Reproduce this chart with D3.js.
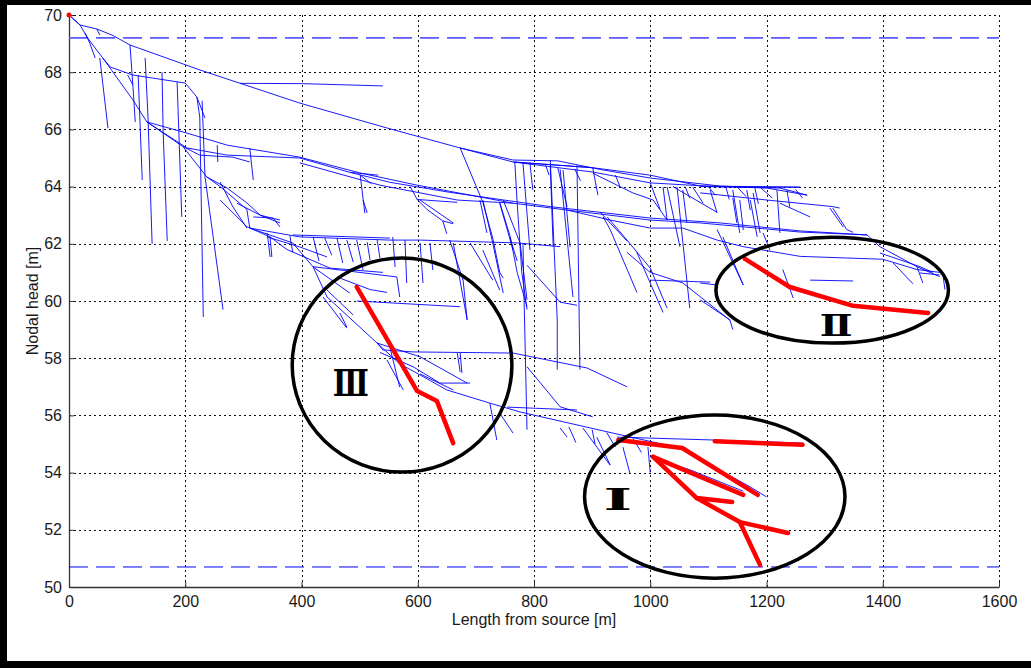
<!DOCTYPE html>
<html>
<head>
<meta charset="utf-8">
<script src="https://cdn.jsdelivr.net/npm/d3@7"></script>
<style>
  html, body { margin: 0; padding: 0; background: #fff; }
  svg { display: block; }
</style>
</head>
<body>
<div id="chart"></div>
<script>
// nodal head along the network, [length from source (m), head (m)]
const xTicks = [0, 200, 400, 600, 800, 1000, 1200, 1400, 1600];
const yTicks = [50, 52, 54, 56, 58, 60, 62, 64, 66, 68, 70];
const headLimits = [69.2, 50.7];   // dashed max / min head
const sourceNode = [0, 70];

// main lines of the tree
const trunkMains = [
  [[0,70],[19,69.65],[48,69.51],[76,69.28],[105,68.95],[225,68.08],[397,66.92],[547,66.05],[673,65.35],[764,64.86],[901,64.51],[1000,64.13],[1120,63.99],[1223,63.95],[1270,63.7]],
  [[764,64.86],[901,64.66],[1000,64.4],[1086,64.02],[1258,63.98]],
  [[673,65.35],[764,64.93],[841,64.9],[914,64.6],[1000,64.3],[1120,64.02],[1201,63.95]],
  [[294,67.61],[400,67.6],[540,67.52]],
  [[0,70],[19,69.65],[31,69.23],[41,68.95],[58,68.5],[110,67.03],[134,66.26]],
  [[28,69.37],[36,69.0],[45,68.5]],
  [[58,68.5],[71,68.18],[110,67.9],[200,67.62],[220,67.13],[234,66.4]],
  [[134,66.26],[203,65.35],[272,65.1],[397,65.0],[483,64.5],[552,64.15]],
  [[134,66.26],[203,65.87],[272,65.45],[397,65.03],[500,64.48],[599,64.05],[764,63.42],[857,63.18],[1000,62.83],[1086,62.73],[1258,62.41],[1373,62.31],[1395,61.9],[1459,61.2],[1498,60.85]],
  [[397,64.83],[535,64.05],[668,63.53],[764,63.42]],
  [[552,64.15],[655,63.8],[828,63.3],[1000,62.9],[1120,62.73],[1258,62.45],[1373,62.31]],
  [[134,66.26],[196,65.4],[237,64.34],[260,64.0],[306,63.2],[311,62.55],[397,62.24],[552,62.13],[604,62.13],[771,62.03],[845,61.9]],
  [[260,63.53],[306,62.6],[346,62.24],[375,61.8],[449,61.15],[540,61.0]],
  [[311,62.55],[385,62.03],[420,61.19],[444,60.14],[530,58.53],[569,57.8],[592,57.55],[650,56.89],[724,56.43],[776,56.12],[936,55.38],[1051,54.86],[1073,54.6],[1172,53.5],[1200,53.15]],
  [[530,58.53],[540,58.29],[592,58.22],[764,58.18],[891,57.66],[960,57.0]]
];

// drops and twigs, upper left
const branchesNW = [
  [[48,69.51],[53,69.3]],
  [[53,68.5],[67,66.05]],
  [[105,68.95],[110,67.5],[114,66.26]],
  [[101,67.9],[110,67.55]],
  [[119,67.9],[126,64.23]],
  [[131,68.5],[136,66.4],[143,62.0]],
  [[160,68.0],[162,65.9],[169,62.1]],
  [[186,67.66],[194,62.94]],
  [[229,67.0],[234,64.34],[265,59.7]],
  [[220,67.13],[225,66.43],[231,59.44]],
  [[196,65.4],[225,65.1],[282,65.03],[311,64.86]],
  [[255,65.45],[256,64.86]],
  [[311,65.35],[317,64.23]],
  [[501,64.4],[509,63.07]],
  [[483,64.5],[532,64.4]],
  [[501,64.4],[520,64.1]],
  [[237,64.34],[272,63.95],[306,63.43],[329,63.0],[363,62.73]],
  [[260,64.16],[282,63.29],[306,62.55]],
  [[289,63.42],[329,63.0],[363,62.83]],
  [[317,62.94],[351,62.9],[363,62.59]],
  [[341,62.38],[346,61.54]],
  [[385,62.31],[552,62.2]],
  [[341,62.24],[397,61.89],[444,61.54]],
  [[420,61.19],[483,60.28]],
  [[444,60.38],[489,59.51]],
  [[506,63.53],[513,63.08]],
  [[380,62.28],[385,61.7]],
  [[420,62.24],[430,61.4]],
  [[440,62.2],[452,61.6]],
  [[530,62.15],[535,61.5]]
];

// middle of the network
const branchesCentre = [
  [[587,64.0],[599,63.55],[616,63.2],[643,62.8],[661,62.7]],
  [[643,62.8],[650,62.35]],
  [[599,63.55],[668,63.45]],
  [[604,63.53],[661,62.73]],
  [[673,65.35],[712,63.45],[729,62.2],[741,61.0],[747,60.8]],
  [[707,63.53],[719,62.38]],
  [[741,63.42],[764,61.78]],
  [[767,64.86],[771,63.45],[779,61.0],[788,59.7]],
  [[781,64.83],[793,61.78]],
  [[793,64.83],[798,63.88]],
  [[767,64.86],[901,64.66]],
  [[828,64.72],[833,61.9]],
  [[841,64.65],[857,63.29]],
  [[850,64.58],[862,61.89]],
  [[901,64.65],[910,63.7]],
  [[914,63.1],[960,62.1]],
  [[901,64.47],[970,63.78],[1005,63.53],[1029,62.83]],
  [[1000,64.13],[1017,63.2]],
  [[1022,63.99],[1029,62.83]],
  [[1029,63.99],[1051,61.9]],
  [[1039,64.0],[1115,63.1]],
  [[1073,63.99],[1091,63.42]],
  [[857,63.18],[908,62.94],[931,62.83],[1000,62.55],[1056,62.55],[1115,62.13],[1160,61.9]],
  [[926,62.94],[960,62.13],[1000,61.15],[1029,59.75]],
  [[919,62.94],[931,62.5],[977,60.3]],
  [[960,61.7],[1000,61.0],[1056,60.63],[1137,59.33]],
  [[1000,60.73],[1103,60.66]],
  [[977,61.7],[1022,59.6]],
  [[1046,64.0],[1068,59.75]],
  [[1056,63.88],[1063,62.73]],
  [[1103,63.88],[1115,63.08]],
  [[1142,63.6],[1149,62.73]],
  [[1154,63.53],[1160,62.48]],
  [[1172,63.53],[1184,62.24]],
  [[1125,62.24],[1160,60.56]],
  [[1194,62.38],[1206,61.78]],
  [[741,63.45],[759,62.26],[771,61.0],[788,59.8]],
  [[788,61.25],[845,59.96],[874,59.85]],
  [[828,64.93],[840,59.33],[840,57.6]],
  [[874,64.75],[879,57.6]],
  [[845,64.6],[867,60.14]],
  [[655,62.13],[678,60.73],[685,59.34]],
  [[690,62.03],[729,60.73]],
  [[712,61.78],[741,60.38]],
  [[759,62.2],[771,61.4]],
  [[820,64.75],[826,64.4]],
  [[870,64.62],[880,64.2]],
  [[940,64.4],[948,64.0]],
  [[1060,64.0],[1068,63.6]],
  [[1100,64.0],[1112,63.7]],
  [[1130,63.99],[1136,63.55]],
  [[1150,63.98],[1165,63.65]],
  [[1180,63.96],[1186,63.4]],
  [[1190,63.96],[1210,63.6]],
  [[1250,63.9],[1262,63.6]]
];

// below the 62 m line, around zone III and zone I
const branchesSouth = [
  [[420,61.2],[564,60.84],[569,60.14]],
  [[461,60.84],[518,60.4],[547,60.3]],
  [[495,60.0],[673,59.8]],
  [[437,60.14],[478,59.05]],
  [[346,62.24],[349,61.54]],
  [[461,62.2],[471,61.33]],
  [[478,62.13],[489,61.36]],
  [[495,62.13],[506,61.08]],
  [[513,62.06],[518,61.43]],
  [[557,62.24],[561,61.19]],
  [[578,62.13],[581,60.63]],
  [[604,62.03],[609,60.63]],
  [[621,62.03],[626,61.08]],
  [[661,62.03],[685,59.34]],
  [[712,63.53],[729,62.03],[747,60.28]],
  [[747,63.53],[776,62.03],[788,60.04]],
  [[781,62.0],[783,60.0],[788,55.5]],
  [[530,58.53],[604,58.05],[685,57.13]],
  [[552,58.39],[569,56.99]],
  [[668,58.18],[673,57.52]],
  [[604,57.45],[661,56.89]],
  [[466,59.58],[478,59.09]],
  [[535,58.2],[592,57.7],[638,57.13],[690,57.13]],
  [[673,58.18],[676,57.48]],
  [[788,57.7],[845,56.3],[901,55.95]],
  [[754,56.29],[874,56.19]],
  [[724,56.43],[736,55.14]],
  [[741,56.08],[764,55.38]],
  [[908,55.24],[931,54.27]],
  [[953,54.89],[965,53.98]],
  [[845,55.56],[857,55.24]],
  [[547,57.94],[575,56.89]],
  [[884,55.56],[931,54.26]],
  [[996,54.9],[1000,54.0]],
  [[943,55.24],[1108,55.14],[1263,55.03]],
  [[1000,54.55],[1068,54.1],[1160,53.35]],
  [[860,55.6],[872,55.05]],
  [[900,55.5],[905,55.0]],
  [[925,55.4],[940,54.9]],
  [[970,55.2],[985,54.7]]
];

// right part, around zone II
const branchesEast = [
  [[1086,64.0],[1258,63.98]],
  [[1201,63.95],[1270,63.7]],
  [[1086,63.78],[1201,63.53],[1314,63.3],[1326,63.25]],
  [[1314,63.25],[1338,62.5],[1349,62.4]],
  [[1160,61.9],[1258,61.56],[1400,61.46],[1459,61.1],[1498,61.0]],
  [[1395,61.68],[1464,61.2],[1486,61.0]],
  [[1418,61.33],[1452,60.6]],
  [[1459,61.19],[1469,60.63]],
  [[1464,60.98],[1498,60.91]],
  [[1504,60.85],[1507,60.4]],
  [[1275,60.73],[1349,60.7]],
  [[1228,61.1],[1246,60.1]],
  [[1115,62.5],[1160,60.56]],
  [[1086,60.04],[1137,59.34],[1142,59.0]],
  [[1086,60.63],[1115,60.56]],
  [[1142,63.88],[1154,62.38]],
  [[1166,63.88],[1172,63.18]],
  [[1177,63.78],[1189,62.38]],
  [[1218,63.88],[1223,62.38]],
  [[1235,63.88],[1240,63.29]],
  [[1309,63.25],[1332,62.59]],
  [[1223,63.42],[1275,62.94]]
];

// critical pipes (red)
const criticalI = [
  [[945,55.14],[1055,54.86],[1185,53.22]],
  [[1111,55.1],[1262,54.97]],
  [[1005,54.55],[1160,53.22]],
  [[1005,54.55],[1080,53.11],[1141,52.97]],
  [[1080,53.11],[1154,52.27],[1237,51.89]],
  [[1154,52.27],[1189,50.77]]
];
const criticalII = [
  [[1163,61.47],[1240,60.49],[1349,59.83],[1478,59.58]]
];
const criticalIII = [
  [[495,60.49],[599,56.85],[633,56.5],[661,55.03]]
];

// ringed zones: centre, radii (m), label position
const zoneLabels = ["\u2160", "\u2161", "\u2162"];
const zoneCentres = [[1111,53.16],[1313,60.38],[573,57.76]];
const zoneRadii = [[224,2.85],[200,1.85],[189,3.74]];
const zoneLabelPos = [[944,53.04],[1320,59.16],[485,57.13]];

(function () {
  const W = 1031, H = 668;
  const plot = { left: 69, right: 999, top: 15, bottom: 587 };

  const svg = d3.select("#chart").append("svg")
    .attr("width", W).attr("height", H);
  svg.append("rect").attr("width", W).attr("height", H).attr("fill", "#fff");

  const x = d3.scaleLinear().domain([0, 1600]).range([plot.left, plot.right]);
  const y = d3.scaleLinear().domain([50, 70]).range([plot.bottom, plot.top]);

  // dotted grid
  const grid = svg.append("g").attr("stroke", "#111").attr("stroke-width", 1)
    .attr("stroke-dasharray", "2,3").attr("shape-rendering", "crispEdges");
  grid.selectAll(".gx").data(xTicks.slice(1)).join("line")
    .attr("x1", d => Math.round(x(d)) + 0.5).attr("x2", d => Math.round(x(d)) + 0.5)
    .attr("y1", plot.top).attr("y2", plot.bottom);
  grid.selectAll(".gy").data(yTicks.slice(1)).join("line")
    .attr("y1", d => Math.round(y(d)) + 0.5).attr("y2", d => Math.round(y(d)) + 0.5)
    .attr("x1", plot.left).attr("x2", plot.right);

  // axes
  const font = "'Liberation Sans Narrow', 'Liberation Sans', Arial, sans-serif";
  const xAxis = d3.axisBottom(x).tickValues(xTicks).tickFormat(d3.format("d"))
    .tickSize(-5).tickPadding(9).tickSizeOuter(0);
  const yAxis = d3.axisLeft(y).tickValues(yTicks).tickFormat(d3.format("d"))
    .tickSize(-5).tickPadding(7).tickSizeOuter(0);
  const xg = svg.append("g").attr("transform", `translate(0,${plot.bottom})`).call(xAxis);
  const yg = svg.append("g").attr("transform", `translate(${plot.left},0)`).call(yAxis);
  [xg, yg].forEach(g => {
    g.select(".domain").attr("stroke", "#333").attr("stroke-width", 1.3);
    g.selectAll(".tick line").attr("stroke", "#333");
    g.selectAll(".tick text").attr("fill", "#1a1a1a")
      .style("font-family", font).style("font-size", "16px");
  });

  // limits
  svg.append("line")
    .attr("x1", x(0)).attr("x2", x(1600))
    .attr("y1", y(headLimits[0])).attr("y2", y(headLimits[0]))
    .attr("stroke", "#5a5aff").attr("stroke-width", 1.6).attr("stroke-dasharray", "19,8");
  svg.append("line")
    .attr("x1", x(0)).attr("x2", x(1600))
    .attr("y1", y(headLimits[1])).attr("y2", y(headLimits[1]))
    .attr("stroke", "#0000ff").attr("stroke-width", 1).attr("stroke-dasharray", "19,8");

  const line = d3.line().x(d => x(d[0])).y(d => y(d[1]));

  // network
  const pipes = [].concat(trunkMains, branchesNW, branchesCentre, branchesSouth, branchesEast);
  svg.append("g").selectAll("path").data(pipes).join("path")
    .attr("d", line).attr("fill", "none")
    .attr("stroke", "#0000ff").attr("stroke-width", 0.9);

  // red critical pipes
  svg.append("g").selectAll("path").data([].concat(criticalI, criticalII, criticalIII)).join("path")
    .attr("d", line).attr("fill", "none")
    .attr("stroke", "#ff0000").attr("stroke-width", 4.5)
    .attr("stroke-linejoin", "round").attr("stroke-linecap", "round");

  // zones
  const labelSize = [29, 30, 38];
  const labelStretch = [2.1, 1.3, 0.78];
  const zg = svg.append("g");
  zg.selectAll("ellipse").data(zoneCentres).join("ellipse")
    .attr("cx", d => x(d[0])).attr("cy", d => y(d[1]))
    .attr("rx", (d, i) => x(zoneRadii[i][0]) - x(0))
    .attr("ry", (d, i) => y(50) - y(50 + zoneRadii[i][1]))
    .attr("fill", "none").attr("stroke", "#000").attr("stroke-width", 3.5);
  zg.selectAll("text").data(zoneLabelPos).join("text")
    .attr("transform", (d, i) => `translate(${x(d[0])},${y(d[1])}) scale(${labelStretch[i]},1)`)
    .attr("text-anchor", "middle").attr("dominant-baseline", "central")
    .style("font-family", "'DejaVu Serif', 'Liberation Serif', serif")
    .style("font-weight", "bold").style("font-size", (d, i) => labelSize[i] + "px")
    .text((d, i) => zoneLabels[i]);

  // source node
  svg.append("circle").attr("cx", x(sourceNode[0])).attr("cy", y(sourceNode[1]))
    .attr("r", 2.5).attr("fill", "#ff0000");

  // axis titles
  svg.append("text")
    .attr("x", (plot.left + plot.right) / 2).attr("y", 625)
    .attr("text-anchor", "middle").attr("fill", "#1a1a1a")
    .style("font-family", font).style("font-size", "16px")
    .text("Length from source [m]");
  svg.append("text")
    .attr("transform", `translate(38,${(plot.top + plot.bottom) / 2}) rotate(-90)`)
    .attr("text-anchor", "middle").attr("fill", "#1a1a1a")
    .style("font-family", font).style("font-size", "16px")
    .text("Nodal head [m]");

  // black picture frame (top, left, bottom)
  svg.append("rect").attr("x", 0).attr("y", 0).attr("width", W).attr("height", 5).attr("fill", "#000");
  svg.append("rect").attr("x", 0).attr("y", 0).attr("width", 7).attr("height", H).attr("fill", "#000");
  svg.append("rect").attr("x", 0).attr("y", 661).attr("width", W).attr("height", 7).attr("fill", "#000");
})();
</script>
</body>
</html>
